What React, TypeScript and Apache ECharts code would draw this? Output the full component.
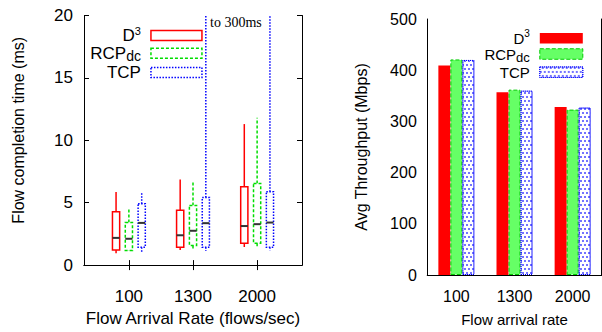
import React, { useEffect, useRef } from "react";
import * as echarts from "echarts";

// ---------- data ----------
const categories = ["100", "1300", "2000"];
const seriesNames = ["D3", "RCPdc", "TCP"];
// box data: [min, q1, median, q3, max] (ms)
const d3Box = [
  [0.95, 1.2, 2.18, 4.27, 5.85],
  [1.2, 1.43, 2.39, 4.4, 6.85],
  [1.45, 1.76, 3.13, 6.28, 11.3],
];
const rcpBox = [
  [1.12, 1.17, 2.11, 3.41, 4.48],
  [1.32, 1.58, 2.75, 4.78, 6.77],
  [1.43, 1.76, 3.28, 6.54, 11.8],
];
const tcpBox = [
  [1.04, 1.43, 3.38, 4.91, 5.78],
  [1.12, 1.43, 3.36, 5.42, 300],
  [1.17, 1.43, 3.41, 5.88, 300],
];
// avg throughput (Mbps)
const d3Tput = [409, 357, 328];
const rcpTput = [421, 362, 323];
const tcpTput = [420, 360, 327];
const fctTicks = [0, 5, 10, 15, 20];
const tputTicks = [0, 100, 200, 300, 400, 500];

const FONT = "Liberation Sans, Arial, Helvetica, sans-serif";
const RED = "#ff0000";
const GREEN = "#00dd00";
const BLUE = "#0000ff";

const boxStyles = [
  { stroke: RED, dash: null as number[] | null },
  { stroke: GREEN, dash: [3, 2] },
  { stroke: BLUE, dash: [1.5, 1.5] },
];
const boxOffsets = [-0.2, 0, 0.2];

function makeBoxSeries(idx: number, boxes: number[][]) {
  const st = boxStyles[idx];
  const data = boxes.map((b, i) => [i + 1, ...b]);
  return {
    type: "custom",
    name: seriesNames[idx],
    xAxisIndex: 0,
    yAxisIndex: 0,
    data,
    encode: { x: 0, y: [1, 2, 3, 4, 5] },
    itemStyle: { color: "#fff", borderColor: st.stroke, borderWidth: 1.5 },
    renderItem: (params: any, api: any) => {
      const xv = api.value(0) + boxOffsets[idx];
      const cs = params.coordSys;
      const cx = api.coord([xv, 0])[0];
      const clampY = (y: number) => Math.max(cs.y, Math.min(cs.y + cs.height, y));
      const yMin = clampY(api.coord([xv, api.value(1)])[1]);
      const yQ1 = clampY(api.coord([xv, api.value(2)])[1]);
      const yMed = clampY(api.coord([xv, api.value(3)])[1]);
      const yQ3 = clampY(api.coord([xv, api.value(4)])[1]);
      const yMax = clampY(api.coord([xv, api.value(5)])[1]);
      const half = 3.6;
      const lineStyle: any = { stroke: st.stroke, lineWidth: 1.5, fill: "none" };
      if (st.dash) lineStyle.lineDash = st.dash;
      return {
        type: "group",
        children: [
          { type: "line", shape: { x1: cx, y1: yQ3, x2: cx, y2: yMax }, style: { ...lineStyle } },
          { type: "line", shape: { x1: cx, y1: yQ1, x2: cx, y2: yMin }, style: { ...lineStyle } },
          { type: "rect", shape: { x: cx - half, y: yQ3, width: half * 2, height: yQ1 - yQ3 }, style: { ...lineStyle, fill: "#fff" } },
          { type: "line", shape: { x1: cx - half, y1: yMed, x2: cx + half, y2: yMed }, style: { stroke: "#333", lineWidth: 2 } },
        ],
      };
    },
  };
}

function makeRich(main: number, small: number, sub: number) {
  return {
    b: { fontSize: main, lineHeight: 20, fontFamily: FONT, color: "#000" },
    sup: { fontSize: small, lineHeight: 10, verticalAlign: "top", fontFamily: FONT, color: "#000" },
    sub: { fontSize: sub, lineHeight: 11, verticalAlign: "bottom", fontFamily: FONT, color: "#000" },
  };
}
const legendFormatter = (name: string) =>
  name === "D3" ? "{b|D}{sup|3}" : name === "RCPdc" ? "{b|RCP}{sub|dc}" : "{b|" + name + "}";

const tcpDecal = {
  symbol: "rect",
  symbolSize: 1,
  color: "rgba(0,0,255,0.55)",
  dashArrayX: [[1.5, 1.5], [0, 1.5, 1.5, 0]],
  dashArrayY: [1.5, 1.5],
  rotation: 0,
};

export default function App() {
  const ref = useRef<HTMLDivElement>(null);
  useEffect(() => {
    if (!ref.current) return;
    const chart = echarts.init(ref.current, null, { renderer: "svg" });
    const axisLine = { show: true, lineStyle: { color: "#000", width: 1 } };
    const tick = { inside: true, length: 5, lineStyle: { color: "#000" } };
    const option: any = {
      animation: false,
      backgroundColor: "#fff",
      textStyle: { fontFamily: FONT, color: "#000" },
      grid: [
        { left: 84, top: 15.5, width: 218, height: 262.5 },
        { left: 427.3, top: 19, width: 174.4, height: 260.3 },
      ],
      xAxis: [
        {
          gridIndex: 0,
          type: "value",
          min: 0.3,
          max: 3.7,
          position: "bottom",
          axisLine,
          splitLine: { show: false },
          axisTick: { ...tick, customValues: [1, 2, 3] },
          axisLabel: {
            customValues: [1, 2, 3],
            formatter: (v: number) => categories[Math.round(v) - 1] ?? "",
            fontSize: 17,
            color: "#000",
            margin: 23,
          },
          name: "Flow Arrival Rate (flows/sec)",
          nameLocation: "middle",
          nameGap: 31,
          nameTextStyle: { fontSize: 17, color: "#000", fontFamily: FONT },
        },
        {
          gridIndex: 0,
          type: "value",
          min: 0.3,
          max: 3.7,
          position: "top",
          axisLine,
          splitLine: { show: false },
          axisTick: { ...tick, customValues: [1, 2, 3] },
          axisLabel: { show: false },
        },
        {
          gridIndex: 1,
          type: "category",
          data: categories,
          position: "bottom",
          axisLine,
          axisTick: { ...tick, alignWithLabel: true },
          axisLabel: { fontSize: 16, color: "#000", margin: 13 },
          name: "Flow arrival rate",
          nameLocation: "middle",
          nameGap: 37,
          nameTextStyle: { fontSize: 15, color: "#000", fontFamily: FONT },
        },
        {
          gridIndex: 1,
          type: "category",
          data: categories,
          position: "top",
          axisLine,
          axisTick: { ...tick, alignWithLabel: true },
          axisLabel: { show: false },
        },
      ],
      yAxis: [
        {
          gridIndex: 0,
          type: "value",
          min: fctTicks[0],
          max: fctTicks[fctTicks.length - 1],
          interval: 5,
          position: "left",
          axisLine,
          splitLine: { show: false },
          axisTick: tick,
          axisLabel: { fontSize: 17, color: "#000", margin: 11 },
          name: "Flow completion time (ms)",
          nameLocation: "middle",
          nameGap: 58,
          nameTextStyle: { fontSize: 16, color: "#000", fontFamily: FONT, padding: [0, 0, 0, 20] },
        },
        {
          gridIndex: 0,
          type: "value",
          min: fctTicks[0],
          max: fctTicks[fctTicks.length - 1],
          interval: 5,
          position: "right",
          axisLine,
          splitLine: { show: false },
          axisTick: tick,
          axisLabel: { show: false },
        },
        {
          gridIndex: 1,
          type: "value",
          min: tputTicks[0],
          max: tputTicks[tputTicks.length - 1],
          interval: 100,
          position: "left",
          axisLine,
          splitLine: { show: false },
          axisTick: tick,
          axisLabel: { fontSize: 16, color: "#000", margin: 10.5 },
          name: "Avg Throughput (Mbps)",
          nameLocation: "middle",
          nameGap: 58,
          nameTextStyle: { fontSize: 16, color: "#000", fontFamily: FONT },
        },
        {
          gridIndex: 1,
          type: "value",
          min: tputTicks[0],
          max: tputTicks[tputTicks.length - 1],
          interval: 100,
          position: "right",
          axisLine,
          splitLine: { show: false },
          axisTick: tick,
          axisLabel: { show: false },
        },
      ],
      legend: [
        {
          orient: "vertical",
          right: 399.3,
          top: 25.5,
          padding: 0,
          align: "right",
          itemWidth: 51,
          itemHeight: 10,
          itemGap: 0.8,
          selectedMode: false,
          formatter: legendFormatter,
          textStyle: { rich: makeRich(17, 11, 14), padding: [0, 5, 0, 0] },
          data: [
            { name: "D3", icon: "rect", itemStyle: { color: "#fff", borderColor: RED, borderWidth: 1.5, borderType: "solid" } },
            { name: "RCPdc", icon: "rect", itemStyle: { color: "#fff", borderColor: GREEN, borderWidth: 1.5, borderType: [3, 2] } },
            { name: "TCP", icon: "rect", itemStyle: { color: "#fff", borderColor: BLUE, borderWidth: 1.5, borderType: [1.5, 1.5] } },
          ],
        },
        {
          orient: "vertical",
          right: 18.7,
          top: 28.3,
          padding: 0,
          align: "right",
          itemWidth: 43,
          itemHeight: 10.5,
          itemGap: 0.7,
          selectedMode: false,
          formatter: legendFormatter,
          textStyle: { rich: makeRich(15, 10, 13), padding: [0, 5, 0, 0] },
          data: [
            { name: "D3", icon: "rect", itemStyle: { color: RED, borderWidth: 0 } },
            { name: "RCPdc", icon: "rect", itemStyle: { color: "#66ff66", borderColor: "#00cc00", borderWidth: 1, borderType: "dashed" } },
            { name: "TCP", icon: "rect", itemStyle: { color: "#fff", borderColor: BLUE, borderWidth: 1, borderType: "dotted", decal: tcpDecal } },
          ],
        },
      ],
      graphic: [
        {
          type: "text",
          x: 210,
          y: 22.5,
          style: { text: "to 300ms", font: "14px 'Liberation Serif', 'Times New Roman', serif", fill: "#000", verticalAlign: "middle" },
        },
      ],
      series: [
        makeBoxSeries(0, d3Box),
        makeBoxSeries(1, rcpBox),
        makeBoxSeries(2, tcpBox),
        {
          type: "bar",
          name: seriesNames[0],
          xAxisIndex: 2,
          yAxisIndex: 2,
          data: d3Tput,
          barWidth: 12,
          barGap: "0%",
          itemStyle: { color: RED },
        },
        {
          type: "bar",
          name: seriesNames[1],
          xAxisIndex: 2,
          yAxisIndex: 2,
          data: rcpTput,
          barWidth: 12,
          barGap: "0%",
          itemStyle: { color: "#66ff66", borderColor: "#00cc00", borderWidth: 1, borderType: "dashed" },
        },
        {
          type: "bar",
          name: seriesNames[2],
          xAxisIndex: 2,
          yAxisIndex: 2,
          data: tcpTput,
          barWidth: 12,
          barGap: "0%",
          itemStyle: { color: "#fff", borderColor: BLUE, borderWidth: 1, borderType: "dotted", decal: tcpDecal },
        },
      ],
    };
    chart.setOption(option);
    return () => chart.dispose();
  }, []);
  return <div ref={ref} style={{ position: "absolute", left: 0, top: 0, width: 602, height: 332 }} />;
}
